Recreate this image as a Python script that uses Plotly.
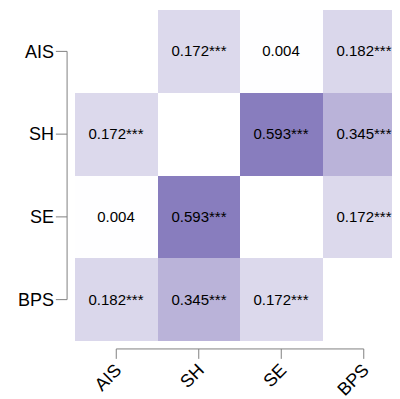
import plotly.graph_objects as go

labels = ["AIS", "SH", "SE", "BPS"]
values = [
    [None, 0.172, 0.004, 0.182],
    [0.172, None, 0.593, 0.345],
    [0.004, 0.593, None, 0.172],
    [0.182, 0.345, 0.172, None],
]
stars = [
    ["", "***", "", "***"],
    ["***", "", "***", "***"],
    ["", "***", "", "***"],
    ["***", "***", "***", ""],
]

text = [[("" if v is None else f"{v:.3f}{s}") for v, s in zip(rv, rs)]
        for rv, rs in zip(values, stars)]

fig = go.Figure(go.Heatmap(
    z=values, x=labels, y=labels, text=text,
    texttemplate="%{text}", textfont=dict(size=15, color="black", family="Liberation Sans, Arial"),
    colorscale=[[0, "#ffffff"], [1, "#887dbe"]], zmin=0, zmax=0.593,
    showscale=False, hoverongaps=False, xgap=0, ygap=0,
))

axis_col = "#808080"
shapes = []
n = len(labels)
# y axis line (offset left of plot)
shapes.append(dict(type="line", xref="paper", yref="y", x0=-0.024, x1=-0.024, y0=0, y1=n - 1,
                   line=dict(color=axis_col, width=1)))
for i in range(n):
    shapes.append(dict(type="line", xref="paper", yref="y", x0=-0.024, x1=-0.058, y0=i, y1=i,
                       line=dict(color=axis_col, width=1)))
# x axis line (offset below plot)
shapes.append(dict(type="line", xref="x", yref="paper", x0=0, x1=n - 1, y0=-0.024, y1=-0.024,
                   line=dict(color=axis_col, width=1)))
for i in range(n):
    shapes.append(dict(type="line", xref="x", yref="paper", x0=i, x1=i, y0=-0.024, y1=-0.054,
                       line=dict(color=axis_col, width=1)))

fig.update_layout(
    width=400, height=399,
    margin=dict(l=67, r=3, t=2, b=66),
    paper_bgcolor="white", plot_bgcolor="white",
    font=dict(family="Liberation Sans, Arial", color="black"),
    shapes=shapes,
)
fig.update_xaxes(type="category", categoryorder="array", categoryarray=labels,
                 tickangle=-45, tickfont=dict(size=18), ticks="", showgrid=False,
                 zeroline=False, showline=False, ticklabelstandoff=14)
fig.update_yaxes(type="category", categoryorder="array", categoryarray=labels,
                 autorange="reversed", tickfont=dict(size=18), ticks="", showgrid=False,
                 zeroline=False, showline=False, ticklabelstandoff=20)

fig.write_html("out.html")
